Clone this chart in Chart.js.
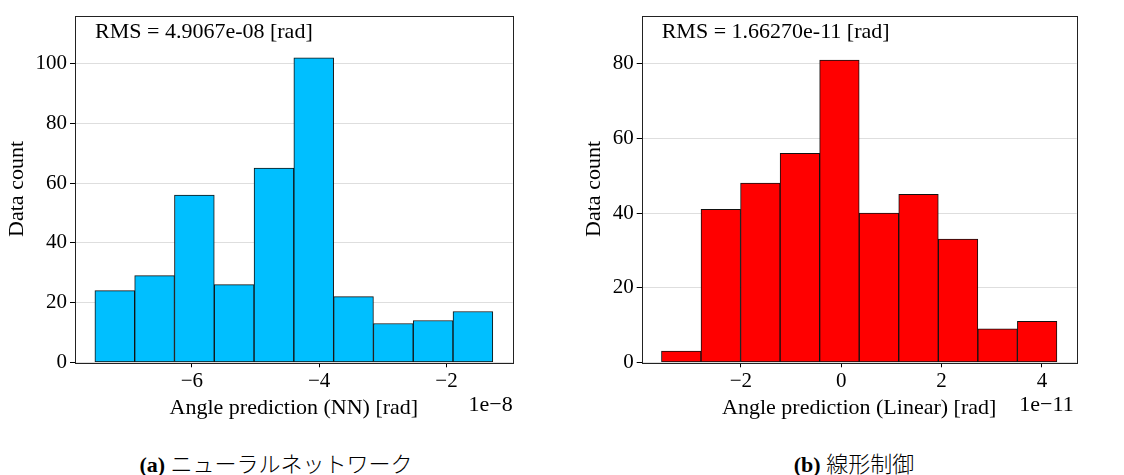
<!DOCTYPE html>
<html>
<head>
<meta charset="utf-8">
<script src="https://cdn.jsdelivr.net/npm/chart.js@4/dist/chart.umd.min.js"></script>
<style>
  body { margin: 0; background: #fff; width: 1124px; height: 475px; position: relative; overflow: hidden; }
  .box { position: absolute; top: 0; height: 421px; }
  .cap { position: absolute; top: 448px; width: 400px; text-align: center; font-size: 22px; line-height: 28px;
         font-family: "Liberation Serif", "Noto Sans CJK JP", serif; color: #000; }
  .cap b { font-family: "Liberation Serif", serif; }
  .cap span { font-family: "Noto Sans CJK JP", sans-serif; font-weight: 300; }
</style>
</head>
<body>
<div class="box" style="left:0;width:560px"><canvas id="nnChart"></canvas></div>
<div class="box" style="left:560px;width:564px"><canvas id="linChart"></canvas></div>
<div class="cap" style="left:76px"><b>(a)</b> <span>ニューラルネットワーク</span></div>
<div class="cap" style="left:654px"><b>(b)</b> <span>線形制御</span></div>
<script>
// histogram data (x in units of the offset shown at the axis end)
const nnEdges = [-7.523, -6.898, -6.273, -5.648, -5.023, -4.398, -3.773, -3.148, -2.523, -1.898, -1.273];
const nnCounts = [24, 29, 56, 26, 65, 102, 22, 13, 14, 17];
const nnXTicks = [-6, -4, -2];
const nnYTicks = [0, 20, 40, 60, 80, 100];

const linEdges = [-3.582, -2.794, -2.006, -1.218, -0.430, 0.358, 1.146, 1.934, 2.722, 3.510, 4.298];
const linCounts = [3, 41, 48, 56, 81, 40, 45, 33, 9, 11];
const linXTicks = [-2, 0, 2, 4];
const linYTicks = [0, 20, 40, 60, 80];

const SERIF = "'Liberation Serif', 'Times New Roman', serif";
const fmtMinus = (v) => String(v).replace('-', '\u2212');

// frame, RMS note and offset text
const extrasPlugin = {
    id: 'extras',
    afterDatasetsDraw(chart, args, opts) {
        const a = chart.chartArea;
        const ctx = chart.ctx;
        ctx.save();
        ctx.strokeStyle = '#222';
        ctx.lineWidth = 1;
        ctx.strokeRect(Math.round(a.left) + 0.5, Math.round(a.top) + 0.5,
            Math.round(a.right - a.left), Math.round(a.bottom - a.top));
        ctx.fillStyle = '#000';
        ctx.font = '22px ' + SERIF;
        ctx.textBaseline = 'middle';
        ctx.textAlign = 'left';
        ctx.fillText(opts.rms, a.left + 20, 32);
        ctx.textAlign = 'right';
        ctx.fillText(opts.offset, a.right + opts.offsetShift, 405);
        ctx.restore();
    }
};

function makeHist(id, edges, counts, xTicks, yTicks, color, yMax, yWidth, titlePad, rms, offset, offsetShift) {
    const pts = counts.map((c, i) => ({ x: (edges[i] + edges[i + 1]) / 2, y: c }));
    const span = edges[edges.length - 1] - edges[0];
    const ctx = document.getElementById(id).getContext('2d');
    return new Chart(ctx, {
        type: 'bar',
        data: {
            datasets: [{
                data: pts,
                backgroundColor: color,
                borderColor: '#111',
                borderWidth: 1,
                borderSkipped: false,
                barPercentage: 1,
                categoryPercentage: 1
            }]
        },
        options: {
            responsive: true,
            maintainAspectRatio: false,
            animation: false,
            layout: { padding: { left: 0, right: 47.3, top: 12.7, bottom: 0 } },
            scales: {
                x: {
                    type: 'linear',
                    offset: false,
                    min: edges[0] - span * 0.05,
                    max: edges[edges.length - 1] + span * 0.05,
                    afterBuildTicks: (s) => { s.ticks = xTicks.map(v => ({ value: v })); },
                    afterFit: (s) => { s.height = 58.7; },
                    border: { display: false },
                    grid: { drawOnChartArea: false, offset: false, tickColor: '#000', tickLength: 5 },
                    ticks: {
                        color: '#000', padding: 2, maxRotation: 0,
                        font: { family: SERIF, size: 21 },
                        callback: (v) => fmtMinus(v)
                    },
                    title: {
                        display: true,
                        text: id === 'nnChart' ? 'Angle prediction (NN) [rad]' : 'Angle prediction (Linear) [rad]',
                        color: '#000',
                        font: { family: SERIF, size: 22 },
                        padding: { top: 0, bottom: 0 }
                    }
                },
                y: {
                    min: 0,
                    max: yMax,
                    afterBuildTicks: (s) => { s.ticks = yTicks.map(v => ({ value: v })); },
                    afterFit: (s) => { s.width = yWidth; },
                    border: { display: false },
                    grid: { color: '#dedede', tickColor: '#000', tickLength: 5 },
                    ticks: { color: '#000', padding: 3, font: { family: SERIF, size: 21 } },
                    title: {
                        display: true,
                        text: 'Data count',
                        color: '#000',
                        font: { family: SERIF, size: 22 },
                        padding: { top: titlePad, bottom: 0 }
                    }
                }
            },
            plugins: {
                legend: { display: false },
                tooltip: { enabled: false },
                extras: { rms: rms, offset: offset, offsetShift: offsetShift }
            }
        },
        plugins: [extrasPlugin]
    });
}

makeHist('nnChart', nnEdges, nnCounts, nnXTicks, nnYTicks, '#00bfff', 116.1, 75, 4, 'RMS = 4.9067e-08 [rad]', '1e\u22128', 0);
makeHist('linChart', linEdges, linCounts, linXTicks, linYTicks, '#ff0000', 92.9, 81.7, 21, 'RMS = 1.66270e-11 [rad]', '1e\u221211', -3);
</script>
</body>
</html>
